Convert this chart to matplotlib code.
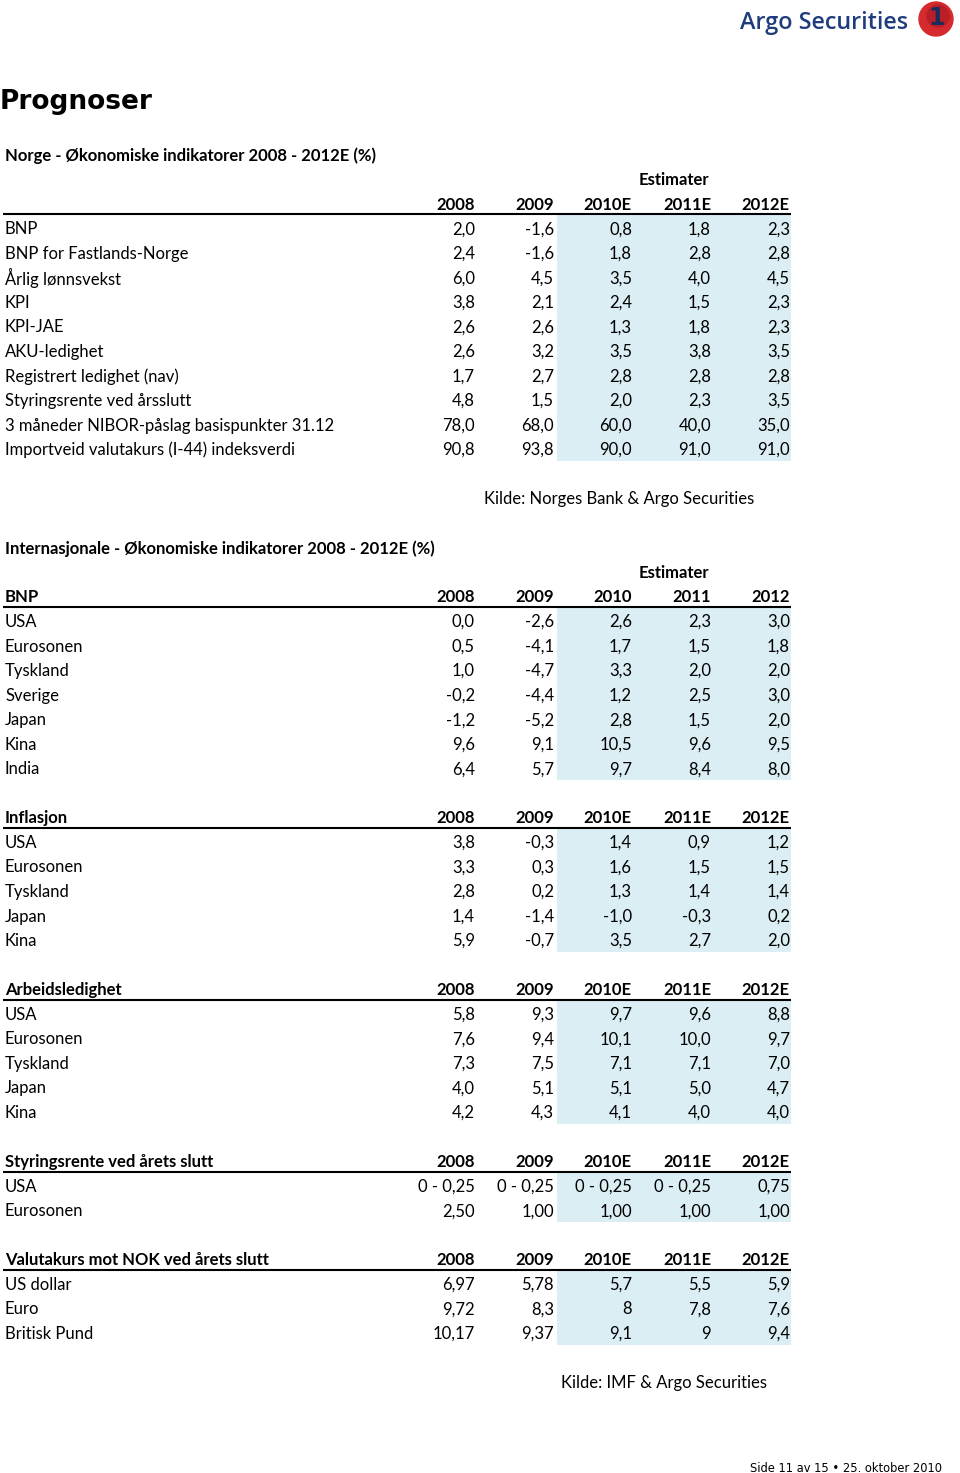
import matplotlib.pyplot as plt
from matplotlib.patches import Rectangle, Circle

# ---- data ----
years_est = ['2008', '2009', '2010E', '2011E', '2012E']
years_plain = ['2008', '2009', '2010', '2011', '2012']

norge_labels = ['BNP', 'BNP for Fastlands-Norge', 'Årlig lønnsvekst', 'KPI', 'KPI-JAE',
                'AKU-ledighet', 'Registrert ledighet (nav)', 'Styringsrente ved årsslutt',
                '3 måneder NIBOR-påslag basispunkter 31.12',
                'Importveid valutakurs (I-44) indeksverdi']
norge_vals = [[2.0, -1.6, 0.8, 1.8, 2.3],
              [2.4, -1.6, 1.8, 2.8, 2.8],
              [6.0, 4.5, 3.5, 4.0, 4.5],
              [3.8, 2.1, 2.4, 1.5, 2.3],
              [2.6, 2.6, 1.3, 1.8, 2.3],
              [2.6, 3.2, 3.5, 3.8, 3.5],
              [1.7, 2.7, 2.8, 2.8, 2.8],
              [4.8, 1.5, 2.0, 2.3, 3.5],
              [78.0, 68.0, 60.0, 40.0, 35.0],
              [90.8, 93.8, 90.0, 91.0, 91.0]]

bnp_labels = ['USA', 'Eurosonen', 'Tyskland', 'Sverige', 'Japan', 'Kina', 'India']
bnp_vals = [[0.0, -2.6, 2.6, 2.3, 3.0],
            [0.5, -4.1, 1.7, 1.5, 1.8],
            [1.0, -4.7, 3.3, 2.0, 2.0],
            [-0.2, -4.4, 1.2, 2.5, 3.0],
            [-1.2, -5.2, 2.8, 1.5, 2.0],
            [9.6, 9.1, 10.5, 9.6, 9.5],
            [6.4, 5.7, 9.7, 8.4, 8.0]]

infl_labels = ['USA', 'Eurosonen', 'Tyskland', 'Japan', 'Kina']
infl_vals = [[3.8, -0.3, 1.4, 0.9, 1.2],
             [3.3, 0.3, 1.6, 1.5, 1.5],
             [2.8, 0.2, 1.3, 1.4, 1.4],
             [1.4, -1.4, -1.0, -0.3, 0.2],
             [5.9, -0.7, 3.5, 2.7, 2.0]]

ledig_labels = ['USA', 'Eurosonen', 'Tyskland', 'Japan', 'Kina']
ledig_vals = [[5.8, 9.3, 9.7, 9.6, 8.8],
              [7.6, 9.4, 10.1, 10.0, 9.7],
              [7.3, 7.5, 7.1, 7.1, 7.0],
              [4.0, 5.1, 5.1, 5.0, 4.7],
              [4.2, 4.3, 4.1, 4.0, 4.0]]

rente_labels = ['USA', 'Eurosonen']
rente_vals = [['0 - 0,25', '0 - 0,25', '0 - 0,25', '0 - 0,25', '0,75'],
              ['2,50', '1,00', '1,00', '1,00', '1,00']]

valuta_labels = ['US dollar', 'Euro', 'Britisk Pund']
valuta_vals = [[6.97, 5.78, 5.7, 5.5, 5.9],
               [9.72, 8.3, 8, 7.8, 7.6],
               [10.17, 9.37, 9.1, 9, 9.4]]


def f1(v):
    return f'{v:.1f}'.replace('.', ',')


def fg(v):
    return f'{v:g}'.replace('.', ',')


# ---- layout ----
W, H = 960, 1473
fig = plt.figure(figsize=(W / 100, H / 100), dpi=100)
ax = fig.add_axes([0, 0, 1, 1])
ax.set_xlim(0, W)
ax.set_ylim(H, 0)
ax.axis('off')

FONT = 'Lato'
FS = 12
y0, dy = 154, 24.55
col_right = [475, 554, 632, 711, 790]
shade_x0, shade_x1 = 557, 791
left = 5
shade = '#daeef3'
toff = 1.5  # text sits a bit lower than the row centre


def ry(r):
    return y0 + r * dy


def txt(x, r, s, ha='left', bold=False, **kw):
    ax.text(x, ry(r) + toff, s, ha=ha, va='center', fontsize=FS, family=FONT,
            fontweight='bold' if bold else 'normal', **kw)


def header(r, label, years):
    if label:
        txt(left, r, label, bold=True)
    for x, y in zip(col_right, years):
        txt(x, r, y, ha='right', bold=True)
    ax.plot([3, shade_x1], [ry(r) + dy / 2 - 1, ry(r) + dy / 2 - 1], color='black', lw=1.5,
            solid_capstyle='butt')


def block(r, labels, vals, fmt):
    ax.add_patch(Rectangle((shade_x0, ry(r) - dy / 2), shade_x1 - shade_x0, dy * len(labels),
                           color=shade, lw=0, zorder=0))
    for i, (lab, row) in enumerate(zip(labels, vals)):
        txt(left, r + i, lab)
        for x, v in zip(col_right, row):
            txt(x, r + i, v if isinstance(v, str) else fmt(v), ha='right')


# page header
ax.text(908, 23, 'Argo Securities', ha='right', va='center', fontsize=16.8,
        family='Open Sans', fontweight='semibold', color='#1f3c7c')
ax.add_patch(Circle((936, 19), 17, color='#d52b2f', zorder=2))
ax.add_patch(Circle((938, 16), 11, color='#b81f26', zorder=2))
ax.text(937, 18, '1', ha='center', va='center', fontsize=17, family='DejaVu Sans',
        fontweight='bold', color='#1c2b5e', zorder=3)
ax.text(0, 102, 'Prognoser', ha='left', va='center', fontsize=19,
        family='DejaVu Sans', fontweight='bold')

# Norge
txt(left, 0, 'Norge - Økonomiske indikatorer 2008 - 2012E (%)', bold=True)
txt(674, 1, 'Estimater', ha='center', bold=True)
header(2, '', years_est)
block(3, norge_labels, norge_vals, f1)
txt(619, 14, 'Kilde: Norges Bank & Argo Securities', ha='center')

# Internasjonale
txt(left, 16, 'Internasjonale - Økonomiske indikatorer 2008 - 2012E (%)', bold=True)
txt(674, 17, 'Estimater', ha='center', bold=True)
header(18, 'BNP', years_plain)
block(19, bnp_labels, bnp_vals, f1)
header(27, 'Inflasjon', years_est)
block(28, infl_labels, infl_vals, f1)
header(34, 'Arbeidsledighet', years_est)
block(35, ledig_labels, ledig_vals, f1)
header(41, 'Styringsrente ved årets slutt', years_est)
block(42, rente_labels, rente_vals, f1)
header(45, 'Valutakurs mot NOK ved årets slutt', years_est)
block(46, valuta_labels, valuta_vals, fg)
txt(664, 50, 'Kilde: IMF & Argo Securities', ha='center')

# footer
ax.text(942, 1468, 'Side 11 av 15 \u2022 25. oktober 2010', ha='right', va='center',
        fontsize=8.3, family='DejaVu Sans')

fig.savefig('out.png', dpi=100)
